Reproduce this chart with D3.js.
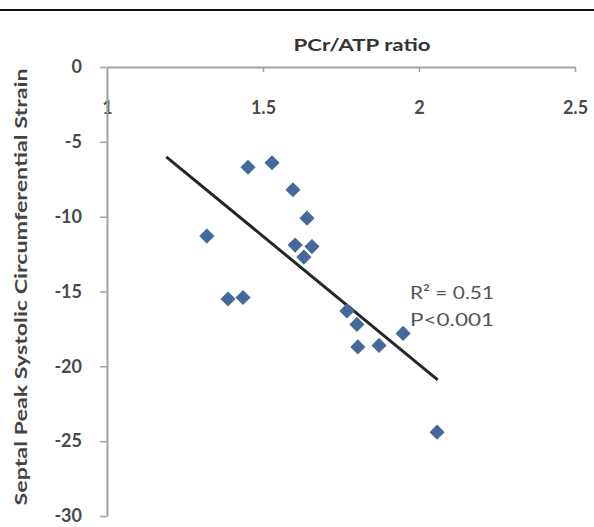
<!DOCTYPE html>
<html><head><meta charset="utf-8">
<script src="https://cdn.jsdelivr.net/npm/d3@7/dist/d3.min.js"></script>
<style>
html,body{margin:0;padding:0;background:#fff;}
svg{display:block;}
text{font-family:Lato,"Open Sans",sans-serif;}
</style></head>
<body>
<svg id="c" width="594" height="527"></svg>
<script>
// Data
const pcrAtp = [1.32, 1.452, 1.529, 1.596, 1.641, 1.603, 1.657, 1.631, 1.388, 1.436, 1.769, 1.801, 1.804, 1.872, 1.949, 2.058];
const strain = [-11.3, -6.7, -6.4, -8.2, -10.1, -11.9, -12.0, -12.7, -15.5, -15.4, -16.3, -17.2, -18.7, -18.6, -17.8, -24.4];
const trendX = [1.19, 2.06];
const trendY = [-6.0, -20.9];
const xTicks = [1, 1.5, 2, 2.5];
const yTicks = [0, -5, -10, -15, -20, -25, -30];
const xTitle = "PCr/ATP ratio";
const yTitle = "Septal Peak Systolic Circumferential Strain";
const annot = ["R\u00B2 = 0.51", "P<0.001"];

const svg = d3.select("#c");
const W = 594;
const x = d3.scaleLinear().domain([1, 2.5]).range([107, 575]);
const y = d3.scaleLinear().domain([0, -30]).range([67, 516]);

// top rule
svg.append("line").attr("x1", 0).attr("x2", W).attr("y1", 10).attr("y2", 10)
  .attr("stroke", "#111").attr("stroke-width", 2);

// x axis (at y=0, top)
const gx = svg.append("g").attr("transform", `translate(0,${y(0)})`)
  .call(d3.axisBottom(x).tickValues(xTicks).tickSize(5).tickSizeOuter(0).tickPadding(29)
    .tickFormat(d3.format("")));
// y axis
const gy = svg.append("g").attr("transform", `translate(${x(1)},0)`)
  .call(d3.axisLeft(y).tickValues(yTicks).tickSize(7).tickSizeOuter(0).tickPadding(18)
    .tickFormat(d => d));
[gx, gy].forEach(g => {
  g.select(".domain").attr("stroke", "#a0a0a0").attr("stroke-width", 2);
  g.selectAll(".tick line").attr("stroke", "#a0a0a0").attr("stroke-width", 1.5);
  g.selectAll(".tick text").attr("fill", "#4a4a4a").attr("font-size", 18).attr("font-weight", 700)
    .style("font-family", "Lato, 'Open Sans', sans-serif");
});
gx.selectAll(".tick").filter(d => d === 1).select("line").remove();

// axis titles
svg.append("text").attr("x", 362).attr("y", 51).attr("text-anchor", "middle")
  .attr("font-size", 17).attr("font-weight", 700).attr("fill", "#333")
  .attr("textLength", 137).attr("lengthAdjust", "spacingAndGlyphs").text(xTitle);
svg.append("text").attr("transform", `translate(27,287) rotate(-90)`).attr("text-anchor", "middle")
  .attr("font-size", 17).attr("font-weight", 700).attr("fill", "#444")
  .attr("textLength", 437).attr("lengthAdjust", "spacingAndGlyphs").text(yTitle);

// trendline
svg.append("line")
  .attr("x1", x(trendX[0])).attr("y1", y(trendY[0]))
  .attr("x2", x(trendX[1])).attr("y2", y(trendY[1]))
  .attr("stroke", "#262626").attr("stroke-width", 3);

// points (diamonds)
const sym = d3.symbol().type(d3.symbolSquare).size(115);
svg.append("g").selectAll("path").data(pcrAtp.map((v, i) => [v, strain[i]])).join("path")
  .attr("d", sym)
  .attr("transform", d => `translate(${x(d[0])},${y(d[1])}) rotate(45)`)
  .attr("fill", "#44699c");

// annotation
annot.forEach((t, i) => {
  svg.append("text").attr("x", 410).attr("y", 299 + i * 27)
    .attr("font-size", 18).attr("fill", "#555").attr("font-weight", 400)
    .attr("textLength", 84).attr("lengthAdjust", "spacingAndGlyphs").text(t);
});
</script>
</body></html>
